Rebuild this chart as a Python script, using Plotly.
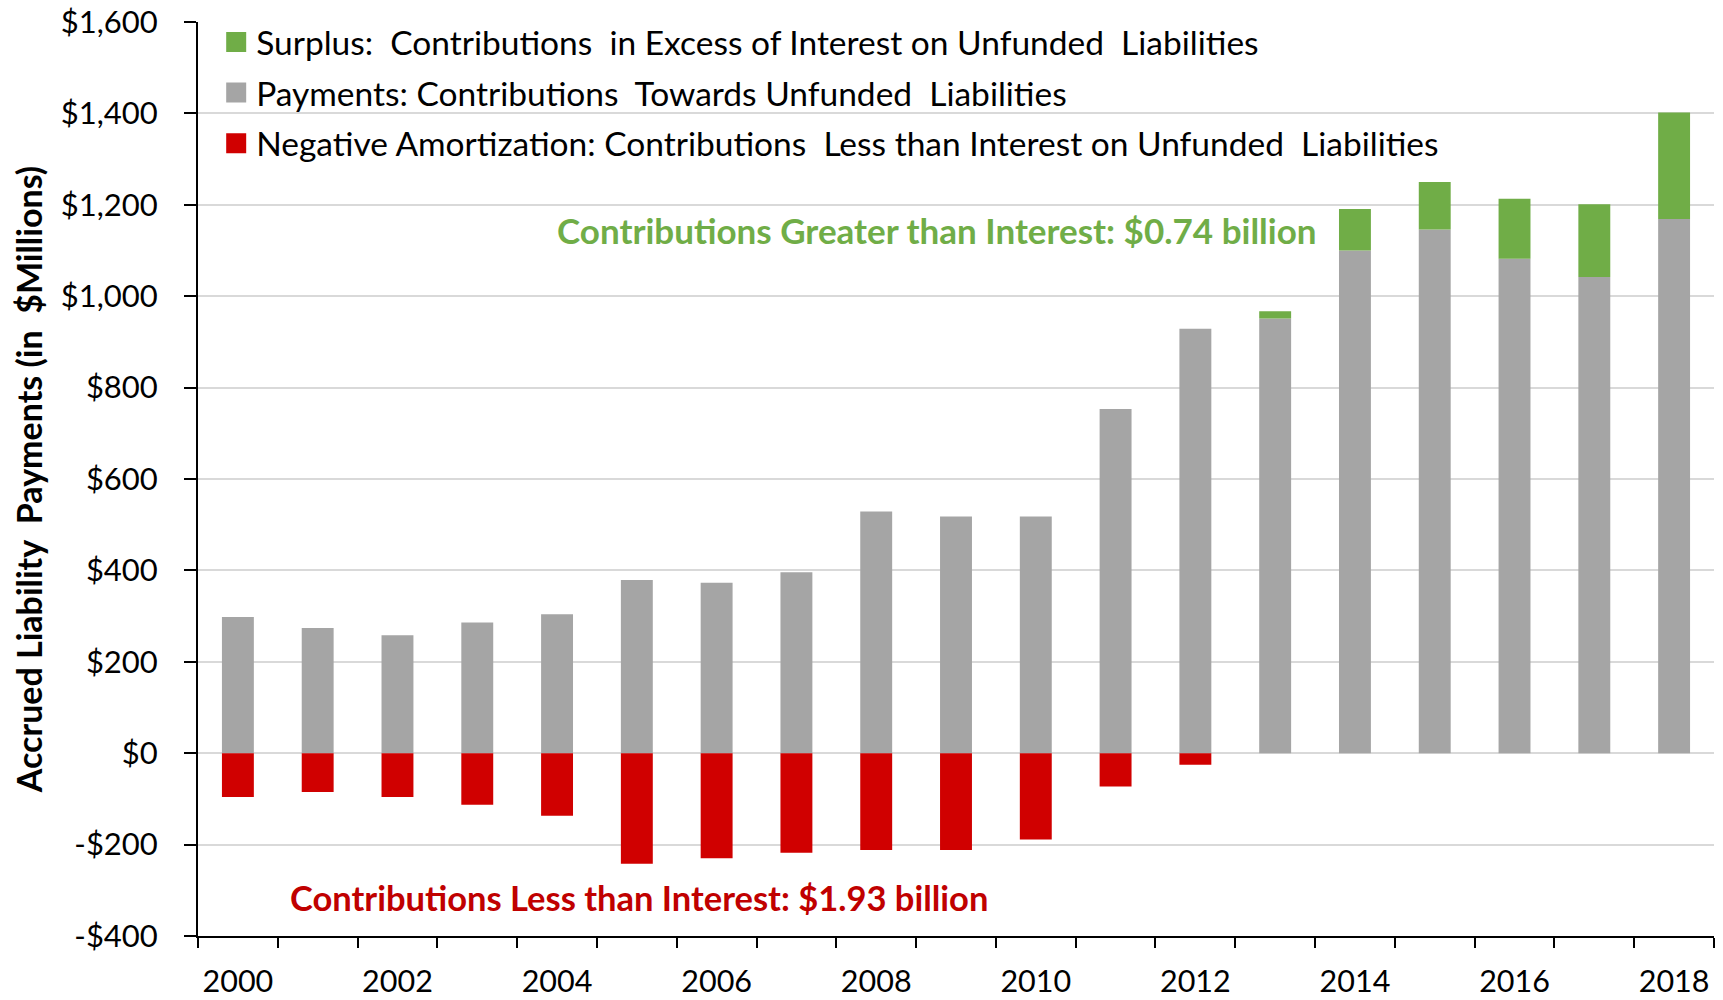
import plotly.graph_objects as go

# ---------------- data ----------------
years = list(range(2000, 2019))
payments = [298, 274, 258, 286, 304, 379, 373, 396, 529, 518, 518, 753, 929,
            951, 1100, 1146, 1082, 1042, 1169]
surplus = [None] * 13 + [16, 91, 104, 131, 159, 233]
negative = [-96, -85, -96, -113, -137, -242, -230, -218, -212, -212, -189, -73, -25] + [None] * 6

legend_labels = [
    "Surplus:  Contributions  in Excess of Interest on Unfunded  Liabilities",
    "Payments: Contributions  Towards Unfunded  Liabilities",
    "Negative Amortization: Contributions  Less than Interest on Unfunded  Liabilities",
]
ytick_vals = [-400, -200, 0, 200, 400, 600, 800, 1000, 1200, 1400, 1600]
ytick_text = ["-$400", "-$200", "$0", "$200", "$400", "$600", "$800",
              "$1,000", "$1,200", "$1,400", "$1,600"]
xtick_vals = [2000, 2002, 2004, 2006, 2008, 2010, 2012, 2014, 2016, 2018]
xtick_text = [str(v) for v in xtick_vals]

note_surplus = "Contributions Greater than Interest: $0.74 billion"
note_negative = "Contributions Less than Interest: $1.93 billion"
y_title = "Accrued Liability  Payments (in  $Millions)"

GREEN = "#70AD47"
GRAY = "#A5A5A5"
RED = "#D00000"
RED_TEXT = "#C00000"
FONT = "Lato"

fig = go.Figure()

# stacked bars
fig.add_bar(x=years, y=payments, marker=dict(color=GRAY, line=dict(width=0)),
            showlegend=False, hoverinfo="x+y")
fig.add_bar(x=years, y=surplus, marker=dict(color=GREEN, line=dict(width=0)),
            showlegend=False, hoverinfo="x+y")
fig.add_bar(x=years, y=negative, marker=dict(color=RED, line=dict(width=0)),
            showlegend=False, hoverinfo="x+y")

# legend entries (square swatches)
for name, col in zip(legend_labels, [GREEN, GRAY, RED]):
    fig.add_scatter(x=[None], y=[None], mode="markers", name=name,
                    legendgroup=name,
                    marker=dict(symbol="square", size=16, color=col,
                                line=dict(width=4, color=col)))

fig.add_annotation(x=2013.55, y=1144, xanchor="right", yanchor="middle",
                   text="<b>" + note_surplus + "</b>", showarrow=False,
                   font=dict(family=FONT, size=35, color=GREEN))
fig.add_annotation(x=2000.63, y=-315, xanchor="left", yanchor="middle",
                   text="<b>" + note_negative + "</b>", showarrow=False,
                   font=dict(family=FONT, size=34.5, color=RED_TEXT))

fig.update_layout(
    width=1723, height=1000,
    margin=dict(l=198, r=9, t=22, b=64, autoexpand=False),
    barmode="relative", bargap=0.6,
    plot_bgcolor="white", paper_bgcolor="white",
    font=dict(family=FONT, color="black", size=30),
    legend=dict(x=0.012, y=1.009, xanchor="left", yanchor="top",
                traceorder="grouped", tracegroupgap=4,
                bgcolor="rgba(0,0,0,0)", font=dict(family=FONT, size=33.5),
                itemsizing="trace"),
    xaxis=dict(range=[1999.5, 2018.5], tickmode="array",
               tickvals=xtick_vals, ticktext=xtick_text, ticks="",
               showgrid=False, zeroline=False,
               showline=True, linecolor="black", linewidth=2,
               tickfont=dict(family=FONT, size=30.5),
               ticklabelstandoff=17, ticklabeloverflow="allow",
               minor=dict(tickmode="linear", tick0=1999.5, dtick=1,
                          ticks="outside", ticklen=10, tickwidth=2,
                          tickcolor="black", showgrid=False)),
    yaxis=dict(range=[-400, 1600], tickmode="array",
               tickvals=ytick_vals, ticktext=ytick_text,
               showgrid=True, gridcolor="#D9D9D9", gridwidth=2,
               zeroline=False, showline=True, linecolor="black", linewidth=2,
               ticks="outside", ticklen=12, tickwidth=2, tickcolor="black",
               tickfont=dict(family=FONT, size=31),
               ticklabelstandoff=20, ticklabeloverflow="allow",
               title=dict(text="<b>" + y_title + "</b>", standoff=8,
                          font=dict(family=FONT, size=34))),
)

fig.write_html("out.html", config={"displayModeBar": False},
               post_script="document.body.style.margin='0px';")
